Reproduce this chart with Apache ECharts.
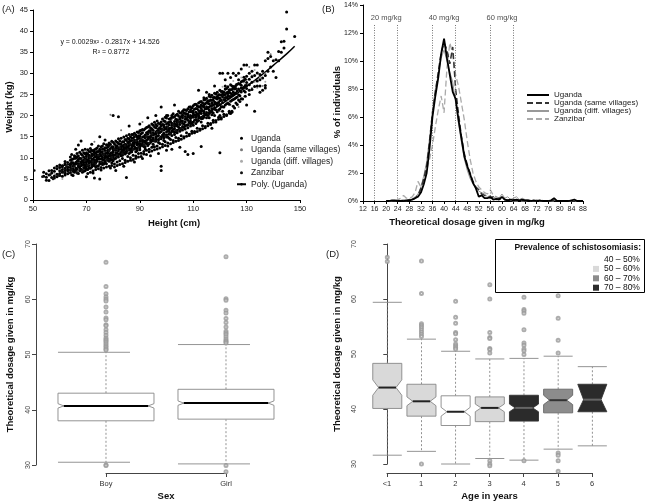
<!DOCTYPE html>
<html><head><meta charset="utf-8">
<script src="https://cdn.jsdelivr.net/npm/echarts/dist/echarts.min.js"></script>
<style>html,body{margin:0;padding:0;background:#fff}#c{width:654px;height:502px}</style>
</head><body><div id="c"></div>
<script>
// ---------- Panel A: weight vs height (rows: height, weights...) ----------
const ugandaRows = [
[54,5.6,6.6],[55,6.2,4.7,5.4],[56,5.9,4.6,6.9],[57,6.4,5.3,7.0],[58,5.7,6.8,7.6,5.2],[59,6.1,7.4,5.5,8.0],
[60,6.9,5.8,7.7,6.3,8.3],[61,7.2,5.6,8.1,6.6,7.9],[62,6.4,8.6,7.5,5.9,7.0,9.1],[63,7.8,6.9,8.9,6.2,7.3],
[64,8.2,7.1,9.4,6.5,7.7,10.2,8.6],[65,7.4,8.8,6.8,9.7,8.0,5.8],[66,8.5,7.6,9.9,12.0,7.0,10.3,8.9],
[67,9.2,7.9,10.4,8.3,13.0,6.3,9.6],[68,8.1,10.9,9.0,7.3,14.0,9.8,8.6],[69,9.4,8.4,11.2,7.7,10.1,6.8,8.9],
[70,9.0,7.9,10.3,8.5,11.2,5.5,9.6,7.3,10.8],[71,9.3,10.6,8.2,11.5,7.6,9.9,8.8,10.1],[72,9.7,8.4,11.8,9.1,13.2,7.8,10.5,8.9,10.9],
[73,10.8,9.4,8.1,11.9,5.2,10.1,9.0,8.6,11.3],[74,9.2,10.7,9.8,12.3,8.0,10.3,9.5,11.4],[75,10.4,9.0,11.6,15.0,8.5,10.9,5.0,9.7,12.0],
[76,10.9,9.6,8.8,12.1,10.2,12.8,8.4,11.4],[77,10.0,11.7,10.5,9.2,14.2,12.4,11.0,8.9],[78,11.8,10.3,11.0,9.4,13.0,9.9,11.4,12.5],
[79,10.7,12.2,9.8,7.6,13.2,11.1,9.5,10.4],[80,11.4,10.1,12.6,20.0,10.8,13.7,9.3,11.9,12.2],[81,11.2,12.9,9.9,7.0,11.8,14.0,10.6,12.3],
[82,12.1,10.8,13.4,19.7,10.2,12.4,11.6,14.5],[83,12.7,11.3,12.0,14.6,10.5,13.3,12.2,11.0],[84,11.7,13.8,12.5,8.0,11.1,14.9,13.0,12.1],
[85,13.1,11.9,14.1,5.3,11.2,12.6,15.2,12.3],[86,13.4,12.2,17.5,12.9,11.0,14.4,13.8,15.5],[87,12.4,14.1,11.8,15.5,13.0,11.4,14.7,12.9],
[88,13.8,12.7,9.0,15.0,12.1,13.3,15.8,14.2],[89,14.3,13.1,12.2,16.1,13.7,11.7,14.9,13.5],[90,13.4,15.2,18.0,12.4,14.6,11.9,16.4,13.9,12.8],
[91,14.9,9.8,13.8,15.9,12.9,16.7,14.2,13.3],[92,15.4,14.0,12.6,16.9,14.7,12.1,15.3,13.6],[93,14.4,19.5,16.1,13.4,15.6,12.9,17.3,14.9],
[94,15.9,10.5,14.8,17.1,13.6,16.4,15.1,14.2],[95,16.5,14.3,15.4,13.2,17.7,12.6,15.9,14.7],[96,15.7,20.0,17.1,14.5,16.1,13.9,17.9,15.0],
[97,16.9,11.0,15.3,16.5,14.2,18.2,15.9,13.6],[98,16.2,22.0,7.0,8.0,17.5,15.0,14.5,18.5,16.8],[99,17.3,15.8,18.7,14.7,16.6,14.1,17.8,15.4],
[100,16.8,20.0,11.8,18.0,15.4,17.3,14.9,19.4,16.1],[101,17.8,16.2,17.0,19.2,15.6,14.6,18.4,16.7],[102,17.2,12.0,19.6,16.4,18.2,15.3,20.0,17.7],
[103,18.6,22.5,16.9,19.7,16.0,18.0,15.5,17.4],[104,18.8,17.5,20.3,16.5,18.4,19.0,15.9,17.9],[105,19.1,12.5,17.9,20.6,17.0,19.5,16.3,18.4],
[106,18.7,20.1,18.2,17.4,21.0,16.6,19.5,20.0],[107,19.8,11.5,18.5,21.3,17.6,19.1,16.8,20.5],[108,20.3,10.8,18.9,17.8,21.6,17.1,19.7,20.0],
[109,19.3,20.9,18.1,22.0,20.0,17.5,18.7,21.4],[110,20.6,20.0,11.0,19.6,22.3,18.4,21.1,17.7,20.0],[111,20.1,21.7,19.0,22.7,18.1,20.8,19.6,20.0],
[112,21.2,26.0,19.7,22.1,18.8,23.0,20.4,20.0],[113,21.7,12.7,20.5,23.3,19.3,21.1,18.5,22.5],[114,21.0,22.5,19.9,23.7,19.6,22.0,20.6,24.2],
[115,22.1,25.5,20.7,23.1,20.2,24.1,21.6,19.5],[116,22.8,21.3,22.0,24.6,20.5,23.5,19.5,25.0],[117,22.4,17.0,23.6,21.1,24.8,21.7,20.2,23.0],
[118,23.2,27.0,21.9,24.3,21.5,25.3,22.7,20.0],[119,23.9,22.3,23.0,25.5,20.9,24.5,22.6],[120,23.5,30.0,11.2,24.9,22.6,24.1,26.0,21.6,20.0],
[121,24.4,30.0,23.1,25.7,22.1,25.1,21.0],[122,25.0,28.5,23.6,24.3,26.3,22.5,27.0],[123,25.6,30.0,24.0,22.9,26.8,24.7,25.2],
[124,26.1,29.0,24.5,25.3,23.4,27.3,20.5],[125,25.6,30.0,26.9,23.8,26.5,22.2,24.9],[126,27.1,29.5,25.3,26.4,24.2,23.0],
[127,26.3,30.0,27.6,24.9,23.7,28.5],[128,28.0,31.0,26.5,25.6,27.2,24.0],[129,26.7,32.0,28.3,25.9,29.1],
[130,27.8,32.0,22.5,26.4,29.3,27.1],[131,28.6,25.0,27.3,30.0,26.0],[132,29.2,26.2,27.9,30.5],[133,29.5,21.0,32.0,26.9],
[134,28.2,32.0,30.1,27.0],[135,29.7,27.0,28.5,25.5],[136,30.5,28.9,26.0],[137,29.5,33.0,27.1,26.5],[138,35.0,30.5,33.5],
[139,31.5,34.0],[140,33.0,30.5],[141,29.0,33.2],[142,35.2,33.0],[143,37.5,35.0],[144,36.0,37.6],[145,44.5,40.5],[148,38.7]
];
const ugandaRowsHalf = [
[64.5,6.0,9.6,7.2,8.9,10.8],[65.5,9.9,6.6,8.4,7.0,10.5],[66.5,7.3,10.1,6.4,9.2,11.0],[67.5,8.0,11.3,6.9,9.9,7.6],
[68.5,10.6,7.1,9.3,11.8,8.3,6.6],[69.5,7.5,10.9,8.1,12.0,9.7,6.9],
[70.5,10.9,7.2,9.5,8.1,11.9,6.3],[71.5,7.5,11.4,9.0,6.6,10.1,12.2],[72.5,9.7,6.9,11.6,8.2,10.8,6.4],[73.5,12.1,7.8,10.3,7.2,8.8,11.2],
[74.5,8.1,11.5,10.0,12.8,7.4,10.5],[75.5,11.4,7.7,12.6,8.9,10.4,7.1],[76.5,8.5,12.1,10.7,13.3,7.6,9.5],[77.5,12.4,8.6,11.1,7.8,13.1,10.3],
[78.5,9.2,12.9,8.0,11.7,10.5,13.5],[79.5,12.6,8.8,11.2,13.9,9.6,8.2],
[80.5,8.5,11.9,13.3,9.7,7.8,10.6],[81.5,12.8,9.0,11.2,8.2,13.7,10.4],[82.5,9.3,13.2,10.9,12.1,8.4,14.0],[83.5,13.8,9.8,11.7,8.6,12.8,10.6],
[84.5,9.4,12.4,14.3,10.9,8.9,13.2],[85.5,13.6,10.3,11.9,9.2,14.6,12.6],[86.5,10.0,14.0,12.1,15.0,9.4,11.3],[87.5,14.7,10.6,12.9,9.6,13.5,15.5],
[88.5,10.4,13.8,11.4,15.4,12.3,9.9],[89.5,15.2,11.0,13.2,10.2,14.6,16.0],[90.5,11.1,15.7,13.0,10.3,14.2,16.5],[91.5,15.0,11.5,13.9,10.9,16.6,12.7],
[92.5,11.8,15.9,14.1,17.2,10.8,13.4],[93.5,16.4,12.0,14.8,11.4,17.6,13.3],[94.5,12.5,16.9,14.2,18.0,11.6,15.4],[95.5,17.3,12.6,15.6,11.9,14.0,18.4],
[96.5,12.8,17.6,15.1,18.7,12.1,16.4],[97.5,18.0,13.4,16.0,12.3,17.1,14.6],[98.5,13.2,17.9,15.4,19.2,12.6,16.7],[99.5,18.6,13.8,16.9,12.9,15.3,19.6],
[100.5,13.5,18.3,16.4,20.0,12.8,14.9],[101.5,19.3,14.3,17.0,13.3,18.6,15.8],[102.5,14.1,19.6,16.7,20.4,13.6,18.0],[103.5,20.1,14.8,17.9,13.9,19.1,16.2],
[104.5,14.6,19.9,17.3,21.0,14.1,18.5],[105.5,20.6,15.2,18.7,14.4,19.8,16.8],[106.5,15.0,20.6,18.0,21.4,14.7,17.2],[107.5,21.2,15.9,19.3,15.1,20.4,17.7],
[108.5,15.6,20.9,18.4,22.0,15.3,19.6],[109.5,21.8,16.3,19.8,15.8,20.9,18.1],[110.5,16.2,21.5,18.9,22.6,15.9,20.2],[111.5,22.3,17.0,20.4,16.2,21.6,18.6],
[112.5,16.8,22.1,19.5,23.2,16.5,20.8],[113.5,23.0,17.6,21.2,16.9,22.2,19.3],[114.5,17.4,22.8,20.2,23.8,17.1,21.6],[115.5,23.5,18.2,21.8,17.6,22.9,20.0],
[116.5,18.1,23.6,20.8,24.4,17.9,22.3],[117.5,24.3,18.9,22.5,18.4,23.6,20.6],[118.5,18.8,24.1,21.4,25.1,18.5,23.0],[119.5,24.9,19.6,23.1,19.1,24.2,21.3],
[120.5,19.5,24.8,22.1,25.7,19.2,23.6],[121.5,25.5,20.3,23.8,19.8,24.9,22.0],[122.5,20.2,25.4,22.8,26.4,20.0,24.3],[123.5,26.1,21.0,24.5,20.6,25.6,22.7],
[124.5,21.0,26.2,23.6,27.0,20.8,25.0],[125.5,26.8,21.8,25.2,24.0,26.3],[126.5,22.6,27.4,24.4,25.8],[127.5,27.5,23.3,25.9,24.7],
[128.5,23.9,28.2,26.5],[129.5,28.6,24.6,27.1,25.6]
];
const sameVillPts = [[62,7.0],[65,8.8],[68,9.3],[70,10.2],[72,8.0],[74,11.8],[76,9.3],[78,12.9],[80,10.0],[82,13.5],[84,11.0],[86,14.5],[88,12.0],[90,15.8],[92,13.0],[94,16.8],[96,14.0],[98,18.0],[100,15.0],[102,19.0],[104,16.5],[106,20.5],[108,17.5],[110,21.8],[112,18.8],[114,23.0],[116,20.0],[118,24.5],[120,21.0],[122,26.0],[124,22.5],[126,27.5],[128,24.0],[130,28.5],[132,26.5],[134,30.0],[136,27.0],[131,31.5],[126,25.5],[129,27.8],[133,28.0],[135,25.5],[137,30.0],[139,34.5],[127,22.0],[83,16.5],[79,20.2],[91,18.5],[73,13.8],[87,9.2]];
const diffVillPts = [[58,6.3],[61,5.0],[64,8.1],[67,10.5],[69,7.3],[71,9.9],[75,11.2],[77,8.7],[81,12.2],[85,12.6],[89,14.9],[93,13.6],[95,17.7],[97,15.5],[99,19.1],[101,15.9],[103,18.6],[105,20.8],[107,17.1],[109,22.2],[111,19.4],[113,21.2],[115,23.6],[117,20.9],[119,24.7],[121,26.8],[123,23.3],[125,28.2],[127,26.2],[129,24.5],[131,27.2],[133,30.8],[135,29.0],[137,28.0],[132,29.5],[128,29.0],[134,26.5]];
const zanzibarPts = [[50.5,7.0],[53.5,5.5],[56.5,6.0],[57.5,5.0],[59.5,5.8],[60.5,6.9],[61.5,6.6],[62.5,7.9],[63.5,6.4],[64.5,7.2],[65.5,8.0],[66.5,6.5],[67.5,8.4],[68.5,7.0],[69.5,9.4],[70.5,8.2],[71.5,10.1],[72.5,9.1],[73.5,8.6],[74.5,10.6],[75.5,9.0],[76.5,10.8],[77.5,9.6],[78.5,11.6],[79.5,10.1],[80.5,12.0],[81.5,10.6],[82.5,12.4],[83.5,11.0],[84.5,12.9],[85.5,11.9],[86.5,13.3],[87.5,12.0],[88.5,14.0],[89.5,12.5],[90.5,14.4],[91.5,13.0],[92.5,15.0],[93.5,13.5],[94.5,15.6],[95.5,14.0],[96.5,16.1],[97.5,14.6],[98.5,16.6],[99.5,15.2],[100.5,17.4],[101.5,15.7],[102.5,17.9],[103.5,16.4],[104.5,18.5],[105.5,17.0]];
const polyPts = [[60,8.1],[65,8.5],[70,9.0],[75,9.7],[80,10.6],[85,11.5],[90,12.7],[95,13.9],[100,15.4],[105,16.9],[110,18.6],[115,20.5],[120,22.5],[125,24.6],[130,26.9],[135,29.3],[140,31.9],[145,34.6],[148,36.4]];

// ---------- Panel B: dosage distribution ----------
const dose = [20,21,22,23,24,25,26,27,28,29,30,31,32,33,34,35,36,37,38,39,40,41,42,43,44,45,46,47,48,49,50,51,52,53,54,55,56,57,58,59,60,61,62,63,64,65,66,67,68,69,70,71,72,73,74,75,76,77,78,79,80,81,82,83,84,85,86,87,88];
const ugandaB = [0,0,0.05,0.05,0,0,0,0.05,0.05,0.1, 0.2,0.3,0.6,1.2,2.0,3.8,6.0,7.5,8.8,10.5, 11.6,10.2,9.0,7.8,7.3,5.8,4.5,3.2,2.5,1.9, 1.3,0.9,0.3,0.4,0.2,0.2,0.3,0.1,0.15,0.1, 0.3,0.1,0.05,0.1,0.05,0.1,0.05,0.1,0.05,0.05, 0,0.05,0,0.05,0,0,0,0.05,0.2,0, 0,0,0,0,0.05,0.1,0,0,0];
const sameB = [0,0,0,0,0,0,0,0,0.1,0.1, 0.2,0.4,0.9,1.6,2.5,4.3,6.3,7.8,9.2,10.6, 11.3,10.8,9.8,11.0,8.0,6.2,4.6,3.4,2.6,2.0, 1.4,1.0,0.8,0.5,0.4,0.3,0.2,0.3,0.1,0.2, 0.1,0.1,0.05,0.05,0.1,0.05,0.05,0.05,0,0, 0,0,0,0,0,0,0,0,0.05,0, 0,0,0,0,0,0,0,0,0];
const diffB = [0,0,0,0,0.1,0.05,0.1,0.05,0.1,0.15, 0.3,0.5,1.0,1.8,2.8,4.5,6.5,8.0,9.0,10.2, 10.8,10.0,9.2,8.5,7.0,5.5,4.2,3.0,2.2,1.6, 1.2,0.9,0.7,0.6,0.5,0.3,0.4,0.2,0.3,0.2, 0.5,0.2,0.3,0.1,0.2,0.3,0.1,0.2,0.1,0.1, 0.05,0,0.1,0,0.05,0,0,0,0.05,0, 0,0,0,0,0,0,0,0,0];
const zanzB = [0,0,0,0,0.1,0.2,0.4,0.2,0.2,0.3, 0.6,1.4,1.0,1.5,2.2,3.0,4.0,5.3,6.5,7.5, 6.3,9.5,11.3,10.5,9.0,8.2,7.0,5.8,4.3,3.0, 2.0,1.4,1.0,0.8,0.6,0.5,0.8,0.4,0.3,0.2, 0.2,0.1,0.1,0.05,0,0,0,0,0,0, 0,0,0,0,0,0,0,0,0,0, 0,0,0,0,0,0,0,0,0];
const doseLines = [16,24,36,44,56,64];
const doseLineTop = 12.6;
const doseLabels = [[20,13.05,'20 mg/kg'],[40,13.05,'40 mg/kg'],[60,13.05,'60 mg/kg']];

// ---------- Panel C: by sex (x, whiskLo, Q1, notchLo, median, notchHi, Q3, whiskHi) ----------
const sexCats = ['Boy','Girl'];
const sexBoxes = [[1,30.5,38.0,40.3,40.7,41.1,43.0,50.4],[2,30.2,38.3,40.8,41.2,41.6,43.7,51.8]];
const sexOutliers = [[1,66.7],[1,62.3],[1,61.0],[1,60.4],[1,60.0],[1,59.7],[1,58.6],[1,57.7],[1,56.6],[1,56.3],[1,55.4],[1,55.2],[1,54.5],[1,54.0],[1,53.5],[1,53.0],[1,52.7],[1,52.5],[1,52.2],[1,51.9],[1,51.6],[1,51.3],[1,51.0],[1,50.8],[1,30.0],[1,29.9],
[2,67.7],[2,60.1],[2,59.8],[2,58.0],[2,57.5],[2,56.5],[2,55.8],[2,55.0],[2,54.2],[2,53.9],[2,53.6],[2,53.2],[2,52.8],[2,52.5],[2,52.3],[2,52.1],[2,29.9],[2,28.8]];

// ---------- Panel D: by age ----------
const ageCats = ['<1','1','2','3','4','5','6'];
const prevNames = ['40 – 50%','50 – 60%','60 – 70%','70 – 80%'];
const prevColors = ['#ffffff','#d9d9d9','#8c8c8c','#2b2b2b'];
const ageBoxes40 = [[2,30.0,37.0,38.7,39.5,40.3,42.4,50.5]];
const ageBoxes50 = [[0,31.6,40.1,42.5,43.9,45.3,48.3,59.4],[1,32.3,38.7,40.6,41.4,42.2,44.5,52.7],[3,31.0,37.7,39.5,40.2,40.9,42.2,49.1]];
const ageBoxes60 = [[5,32.7,39.3,40.8,41.6,42.5,43.6,49.6]];
const ageBoxes70 = [[4,30.7,37.8,39.5,40.2,40.9,42.5,49.2],[6,33.3,39.5,39.5,41.7,44.5,44.5,47.7]];
const ageOutliers = [[0,67.6],[0,66.8],
[1,66.9],[1,61.0],[1,55.5],[1,55.2],[1,54.8],[1,54.4],[1,54.0],[1,53.6],[1,53.2],[1,30.0],
[2,59.6],[2,56.7],[2,55.6],[2,53.9],[2,53.7],[2,52.6],[2,51.8],[2,51.5],[2,51.2],[2,50.9],
[3,62.6],[3,60.0],[3,53.9],[3,53.0],[3,52.8],[3,51.0],[3,50.8],[3,50.2],[3,30.6],[3,30.0],[3,29.7],
[4,60.3],[4,58.1],[4,57.8],[4,57.4],[4,54.4],[4,52.0],[4,51.6],[4,50.9],[4,50.6],[4,49.9],[4,30.6],
[5,60.6],[5,56.5],[5,52.5],[5,50.2],[5,32.0],[5,31.6],[5,30.6],[5,28.7]];

// ---------- helpers ----------
function rowsToPts(rows){const o=[];rows.forEach(r=>{for(let i=1;i<r.length;i++)o.push([r[0],r[i]]);});return o;}
function pair(xs,ys){return xs.map((x,i)=>[x,ys[i]]);}
const FONT = 'Liberation Sans, Arial, sans-serif';

function boxRenderer(halfW, capA, capB, stroke, medColor, notchFrac){
  return function(params, api){
    const x = api.value(0);
    const lo=api.value(1), q1=api.value(2), nlo=api.value(3), md=api.value(4), nhi=api.value(5), q3=api.value(6), hi=api.value(7);
    const y = v => api.coord([x, v])[1];
    const L = api.coord([x-halfW, 40])[0], R = api.coord([x+halfW, 40])[0], C = api.coord([x, 40])[0];
    const ins = (R-L)*notchFrac;
    const pts = [[L,y(q1)],[L,y(nlo)],[L+ins,y(md)],[L,y(nhi)],[L,y(q3)],[R,y(q3)],[R,y(nhi)],[R-ins,y(md)],[R,y(nlo)],[R,y(q1)]];
    const cA = L+(R-L)*capA, cB = L+(R-L)*capB;
    const wl = {stroke:'#777', lineWidth:0.8, lineDash:[2,2]};
    const cl = {stroke:'#888', lineWidth:0.9};
    return {type:'group', children:[
      {type:'line', shape:{x1:C,y1:y(q3),x2:C,y2:y(hi)}, style:wl},
      {type:'line', shape:{x1:C,y1:y(q1),x2:C,y2:y(lo)}, style:wl},
      {type:'line', shape:{x1:cA,y1:y(hi),x2:cB,y2:y(hi)}, style:cl},
      {type:'line', shape:{x1:cA,y1:y(lo),x2:cB,y2:y(lo)}, style:cl},
      {type:'polygon', shape:{points:pts}, style:{fill:api.visual('color'), stroke:stroke, lineWidth:0.9}},
      {type:'line', shape:{x1:L+ins,y1:y(md),x2:R-ins,y2:y(md)}, style:{stroke:medColor, lineWidth:2}}
    ]};
  };
}

const axisLbl = {fontFamily:FONT, fontSize:7.5, color:'#222'};
const excelLine = {show:true, lineStyle:{color:'#000', width:1}};
const excelTick = {show:true, length:3, inside:false, lineStyle:{color:'#000'}};
const rY = (gi, gap)=>({gridIndex:gi, type:'value', min:30, max:70, interval:10,
  axisLine:{show:true, lineStyle:{color:'#444'}}, axisTick:{show:true, length:4, lineStyle:{color:'#444'}},
  axisLabel:{rotate:90, fontFamily:FONT, fontSize:7, color:'#444', margin:4}, splitLine:{show:false},
  name:'Theoretical dosage given in mg/kg', nameLocation:'middle', nameGap:gap,
  nameTextStyle:{fontFamily:FONT, fontSize:9.5, fontWeight:'bold', color:'#111'}});
const rXdisp = (gi, cats, nm)=>({gridIndex:gi, type:'category', data:cats, boundaryGap:false,
  axisLine:{show:true, lineStyle:{color:'#444'}}, axisTick:{show:true, length:4, lineStyle:{color:'#444'}},
  axisLabel:{fontFamily:FONT, fontSize:7.5, color:'#333', margin:7, interval:0},
  name:nm, nameLocation:'middle', nameGap:18, nameTextStyle:{fontFamily:FONT, fontSize:9.5, fontWeight:'bold', color:'#111'}});

const option = {
  backgroundColor:'#fff', animation:false,
  textStyle:{fontFamily:FONT},
  grid:[
    {left:33, top:10, width:267, height:190},
    {left:363, top:5, width:220, height:196},
    {left:36, top:244, width:262, height:221},
    {left:106, top:464, width:120, height:10},
    {left:362, top:244, width:261, height:220},
    {left:387, top:464, width:205, height:10}
  ],
  xAxis:[
    {gridIndex:0, type:'value', min:50, max:150, interval:20, axisLine:excelLine, axisTick:excelTick, axisLabel:Object.assign({margin:5},axisLbl), splitLine:{show:false}},
    {gridIndex:1, type:'value', min:12, max:88, interval:4, axisLine:excelLine, axisTick:excelTick, axisLabel:Object.assign({margin:5},axisLbl,{fontSize:7}), splitLine:{show:false}},
    {gridIndex:2, type:'value', min:0.4167, max:2.6, show:false},
    rXdisp(3, sexCats, 'Sex'),
    {gridIndex:4, type:'value', min:-0.74, max:6.898, show:false},
    rXdisp(5, ageCats, 'Age in years')
  ],
  yAxis:[
    {gridIndex:0, type:'value', min:0, max:45, interval:5, axisLine:excelLine, axisTick:excelTick, axisLabel:Object.assign({margin:5},axisLbl), splitLine:{show:false}},
    {gridIndex:1, type:'value', min:0, max:14, interval:2, axisLine:excelLine, axisTick:excelTick, axisLabel:Object.assign({margin:5, formatter:'{value}%'},axisLbl,{fontSize:7}), splitLine:{show:false}},
    rY(2, 21),
    {gridIndex:3, type:'value', show:false},
    rY(4, 20),
    {gridIndex:5, type:'value', show:false}
  ],
  legend:[
    {left:231, top:128, orient:'vertical', itemWidth:9, itemHeight:3, itemGap:1,
     data:['A:Uganda','A:Uganda (same villages)','A:Uganda (diff. villages)','A:Zanzibar','A:Poly. (Uganda)'],
     formatter:n=>n.slice(2), textStyle:{fontFamily:FONT, fontSize:8.5, color:'#222', lineHeight:10.5}},
    {left:521, top:86, orient:'vertical', itemWidth:22, itemHeight:8, itemGap:0,
     itemStyle:{opacity:0},
     data:['B:Uganda','B:Uganda (same villages)','B:Uganda (diff. villages)','B:Zanzibar'],
     formatter:n=>n.slice(2), textStyle:{fontFamily:FONT, fontSize:8, color:'#222', lineHeight:8}},
    {left:588, top:250, orient:'vertical', itemWidth:6, itemHeight:6, itemGap:0.4, icon:'rect', z:110,
     data:prevNames, textStyle:{fontFamily:FONT, fontSize:8.5, color:'#111', lineHeight:9}}
  ],
  graphic:[
    {type:'text', left:2, top:4, style:{text:'(A)', font:'9.5px '+FONT, fill:'#222'}},
    {type:'text', left:322, top:4, style:{text:'(B)', font:'9.5px '+FONT, fill:'#222'}},
    {type:'text', left:2, top:249, style:{text:'(C)', font:'9.5px '+FONT, fill:'#222'}},
    {type:'text', left:326, top:249, style:{text:'(D)', font:'9.5px '+FONT, fill:'#222'}},
    {type:'text', x:110, y:42, style:{text:'y = 0.0029x² - 0.2817x + 14.526', font:'7px '+FONT, fill:'#111', align:'center', verticalAlign:'middle'}},
    {type:'text', x:111, y:52, style:{text:'R² = 0.8772', font:'7px '+FONT, fill:'#111', align:'center', verticalAlign:'middle'}},
    {type:'text', x:174, y:223, style:{text:'Height (cm)', font:'bold 9.5px '+FONT, fill:'#111', align:'center', verticalAlign:'middle'}},
    {type:'text', x:9, y:107, rotation:Math.PI/2, style:{text:'Weight (kg)', font:'bold 9.5px '+FONT, fill:'#111', align:'center', verticalAlign:'middle'}},
    {type:'text', x:467, y:222, style:{text:'Theoretical dosage given in mg/kg', font:'bold 9.5px '+FONT, fill:'#111', align:'center', verticalAlign:'middle'}},
    {type:'text', x:337, y:102, rotation:Math.PI/2, style:{text:'% of individuals', font:'bold 9.5px '+FONT, fill:'#111', align:'center', verticalAlign:'middle'}},
    {type:'rect', z:100, shape:{x:495.5, y:239.5, width:149, height:53}, style:{fill:'#fff', stroke:'#000', lineWidth:1}},
    {type:'text', z:101, x:641, y:248, style:{text:'Prevalence of schistosomiasis:', font:'bold 8.5px '+FONT, fill:'#111', align:'right', verticalAlign:'middle'}}
  ],
  series:[
    // A
    {name:'A:Poly. (Uganda)', type:'line', xAxisIndex:0, yAxisIndex:0, data:polyPts, smooth:true, showSymbol:false, symbol:'none', z:1, lineStyle:{color:'#000', width:1.5}, itemStyle:{color:'#000'}},
    {name:'A:Uganda (diff. villages)', type:'scatter', xAxisIndex:0, yAxisIndex:0, data:diffVillPts, symbolSize:2, z:2, itemStyle:{color:'#aaa', opacity:1}},
    {name:'A:Uganda (same villages)', type:'scatter', xAxisIndex:0, yAxisIndex:0, data:sameVillPts, symbolSize:2, z:2, itemStyle:{color:'#777', opacity:1}},
    {name:'A:Uganda', type:'scatter', xAxisIndex:0, yAxisIndex:0, data:rowsToPts(ugandaRows).concat(rowsToPts(ugandaRowsHalf)), symbolSize:3, z:3, itemStyle:{color:'#000', opacity:1}},
    {name:'A:Zanzibar', type:'scatter', xAxisIndex:0, yAxisIndex:0, data:zanzibarPts, symbolSize:2.6, z:3, itemStyle:{color:'#111', opacity:1}},
    // B
    {name:'B:Zanzibar', type:'line', xAxisIndex:1, yAxisIndex:1, data:pair(dose,zanzB), symbol:'none', lineStyle:{color:'#aaa', width:1.3, type:[6,3]}, itemStyle:{color:'#aaa'}, z:2,
     markLine:{silent:true, symbol:'none', label:{show:false}, lineStyle:{color:'#777', type:[1,1.5], width:1},
       data:doseLines.map(v=>[{coord:[v,0]},{coord:[v,doseLineTop]}])}},
    {name:'B:Uganda (diff. villages)', type:'line', xAxisIndex:1, yAxisIndex:1, data:pair(dose,diffB), symbol:'none', lineStyle:{color:'#999', width:1}, itemStyle:{color:'#999'}, z:3},
    {name:'B:Uganda (same villages)', type:'line', xAxisIndex:1, yAxisIndex:1, data:pair(dose,sameB), symbol:'none', lineStyle:{color:'#333', width:1.5, type:[6,3]}, itemStyle:{color:'#333'}, z:4},
    {name:'B:Uganda', type:'line', xAxisIndex:1, yAxisIndex:1, data:pair(dose,ugandaB), symbol:'none', lineStyle:{color:'#000', width:1.8}, itemStyle:{color:'#000'}, z:5},
    {name:'doseLabels', type:'scatter', xAxisIndex:1, yAxisIndex:1, data:doseLabels, symbolSize:0, silent:true,
     label:{show:true, position:'inside', formatter:p=>p.value[2], fontFamily:FONT, fontSize:7.5, color:'#222'}},
    // C
    {name:'sexBoxes', type:'custom', xAxisIndex:2, yAxisIndex:2, data:sexBoxes, itemStyle:{color:'#fff'}, clip:false,
     renderItem:boxRenderer(0.4, 0, 0.75, '#888', '#000', 0.06)},
    {name:'sexOut', type:'scatter', xAxisIndex:2, yAxisIndex:2, data:sexOutliers, clip:false, symbol:'emptyCircle', symbolSize:3, itemStyle:{color:'#999', borderWidth:0.6}},
    // D
    {name:prevNames[0], type:'custom', xAxisIndex:4, yAxisIndex:4, data:ageBoxes40, itemStyle:{color:prevColors[0]}, clip:false, renderItem:boxRenderer(0.425,0,1,'#888','#222',0.2)},
    {name:prevNames[1], type:'custom', xAxisIndex:4, yAxisIndex:4, data:ageBoxes50, itemStyle:{color:prevColors[1]}, clip:false, renderItem:boxRenderer(0.425,0,1,'#888','#222',0.2)},
    {name:prevNames[2], type:'custom', xAxisIndex:4, yAxisIndex:4, data:ageBoxes60, itemStyle:{color:prevColors[2]}, clip:false, renderItem:boxRenderer(0.425,0,1,'#666','#333',0.2)},
    {name:prevNames[3], type:'custom', xAxisIndex:4, yAxisIndex:4, data:ageBoxes70, itemStyle:{color:prevColors[3]}, clip:false, renderItem:boxRenderer(0.425,0,1,'#333','#666',0.2)},
    {name:'ageOut', type:'scatter', xAxisIndex:4, yAxisIndex:4, data:ageOutliers, clip:false, symbol:'emptyCircle', symbolSize:3, itemStyle:{color:'#999', borderWidth:0.6}}
  ]
};
const chart = echarts.init(document.getElementById('c'), null, {renderer:'canvas'});
chart.setOption(option);
</script></body></html>
